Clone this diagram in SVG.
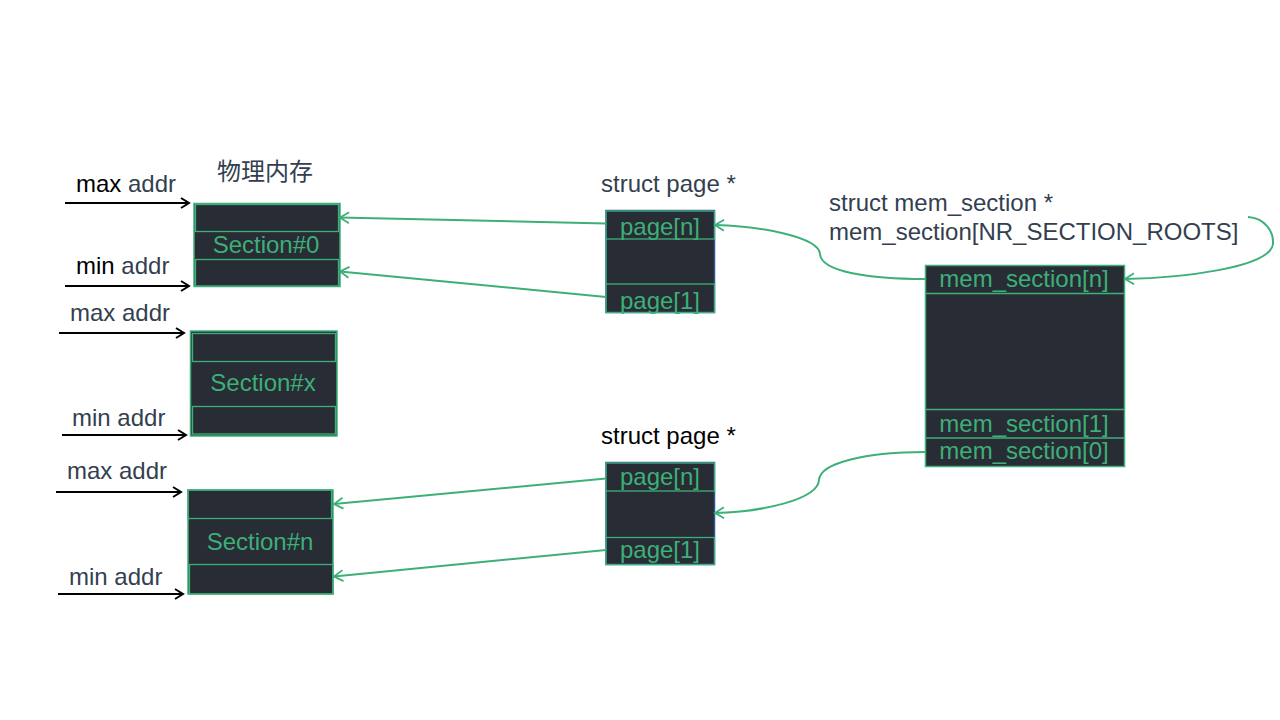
<svg xmlns="http://www.w3.org/2000/svg" width="1280" height="720" viewBox="0 0 1280 720">
<defs>
<style>
.t{font-family:"Liberation Sans",Arial,sans-serif;font-size:24px;fill:#333f50}
.k{fill:#000}
.g{font-family:"Liberation Sans",Arial,sans-serif;font-size:24px;fill:#3daf78;text-anchor:middle}
.box{fill:#282c34;stroke:#3daf78;stroke-width:1.5}
.row{fill:none;stroke:#3daf78;stroke-width:1.3}
.blk{stroke:#000;stroke-width:2;fill:none}
.grn{stroke:#3daf78;stroke-width:2;fill:none}
</style>
<marker id="ab" markerWidth="12" markerHeight="12" viewBox="0 0 12 12" refX="10" refY="6" orient="auto" markerUnits="userSpaceOnUse">
<path d="M2,1 L10,6 L2,11" fill="none" stroke="#000" stroke-width="2"/>
</marker>
<marker id="ag" markerWidth="14" markerHeight="14" viewBox="0 0 14 14" refX="12" refY="7" orient="auto" markerUnits="userSpaceOnUse">
<path d="M3,1.5 L12,7 L3,12.5" fill="none" stroke="#3daf78" stroke-width="1.8"/>
</marker>
</defs>
<rect width="1280" height="720" fill="#fff"/>

<g id="labels">
<text class="t" x="217" y="180" style="font-family:'Liberation Sans','Noto Sans CJK SC',sans-serif">物理内存</text>
<text class="t" x="76" y="192"><tspan class="k">max</tspan> addr</text>
<text class="t" x="76" y="274"><tspan class="k">min</tspan> addr</text>
<text class="t" x="70" y="321">max addr</text>
<text class="t" x="72" y="426">min addr</text>
<text class="t" x="67" y="479">max addr</text>
<text class="t" x="69" y="585">min addr</text>
<text class="t" x="601" y="192">struct page *</text>
<text class="t k" x="601" y="444">struct page *</text>
<text class="t" x="829" y="211">struct mem_section *</text>
<text class="t" x="829" y="240">mem_section[NR_SECTION_ROOTS]</text>
</g>

<g id="section0">
<rect class="box" x="194" y="203.5" width="146" height="83"/>
<rect class="row" x="195.5" y="204.5" width="143" height="27"/>
<rect class="row" x="195.5" y="259.5" width="143" height="26.5"/>
<text class="g" x="266" y="253">Section#0</text>
</g>

<g id="sectionx">
<rect class="box" x="190.5" y="331" width="146.5" height="105"/>
<rect class="row" x="192.5" y="333.5" width="143" height="28"/>
<rect class="row" x="192.5" y="406.5" width="143" height="27.5"/>
<text class="g" x="263" y="391">Section#x</text>
</g>

<g id="sectionn">
<rect class="box" x="188" y="490" width="145" height="104"/>
<rect class="row" x="188" y="490" width="143.5" height="28.5"/>
<rect class="row" x="189.5" y="564.5" width="143.5" height="29.5"/>
<text class="g" x="260" y="550">Section#n</text>
</g>

<g id="pages_top">
<rect x="606" y="210.5" width="108.5" height="102" fill="#282c34" stroke="#2f5597" stroke-width="1.5"/>
<rect class="row" x="606" y="211" width="108.5" height="28"/>
<rect class="row" x="606" y="284" width="108.5" height="28.5"/>
<line class="row" x1="606" y1="239" x2="606" y2="284"/>
<text class="g" x="660" y="235">page[n]</text>
<text class="g" x="660" y="309">page[1]</text>
</g>

<g id="pages_bottom">
<rect x="606" y="462.5" width="108.5" height="102" fill="#282c34" stroke="#2f5597" stroke-width="1.5"/>
<rect class="row" x="606" y="463" width="108.5" height="28"/>
<rect class="row" x="606" y="537.5" width="108.5" height="27"/>
<line class="row" x1="606" y1="491" x2="606" y2="537.5"/>
<text class="g" x="660" y="485">page[n]</text>
<text class="g" x="660" y="558">page[1]</text>
</g>

<g id="memsection">
<rect class="box" x="925.5" y="265.5" width="199" height="201"/>
<line class="row" x1="925.5" y1="293.5" x2="1124.5" y2="293.5"/>
<line class="row" x1="925.5" y1="409.5" x2="1124.5" y2="409.5"/>
<line class="row" x1="925.5" y1="438" x2="1124.5" y2="438"/>
<text class="g" x="1024" y="287">mem_section[n]</text>
<text class="g" x="1024" y="432">mem_section[1]</text>
<text class="g" x="1024" y="459">mem_section[0]</text>
</g>

<g id="connectors">
<line class="blk" x1="65" y1="203" x2="189" y2="203" marker-end="url(#ab)"/>
<line class="blk" x1="65" y1="286" x2="189" y2="286" marker-end="url(#ab)"/>
<line class="blk" x1="59" y1="333" x2="184" y2="333" marker-end="url(#ab)"/>
<line class="blk" x1="62" y1="435" x2="186" y2="435" marker-end="url(#ab)"/>
<line class="blk" x1="56" y1="492" x2="181" y2="492" marker-end="url(#ab)"/>
<line class="blk" x1="58" y1="594" x2="183" y2="594" marker-end="url(#ab)"/>

<line class="grn" x1="606" y1="223.5" x2="340" y2="217.5" marker-end="url(#ag)"/>
<line class="grn" x1="606" y1="297" x2="340" y2="271.5" marker-end="url(#ag)"/>
<line class="grn" x1="606" y1="478.5" x2="334" y2="504" marker-end="url(#ag)"/>
<line class="grn" x1="606" y1="550" x2="334" y2="576.5" marker-end="url(#ag)"/>

<path class="grn" d="M925,279 C870,279 821,272 820,254 C819,237 760,226 715,225" marker-end="url(#ag)"/>
<path class="grn" d="M1248,217 C1265,218 1274,232 1273,244 C1270,268 1180,278 1125,279" marker-end="url(#ag)" stroke-width="1.5"/>
<path class="grn" d="M925,452 C870,452 820,462 819,480 C818,500 760,512 715,513" marker-end="url(#ag)"/>
</g>
</svg>
